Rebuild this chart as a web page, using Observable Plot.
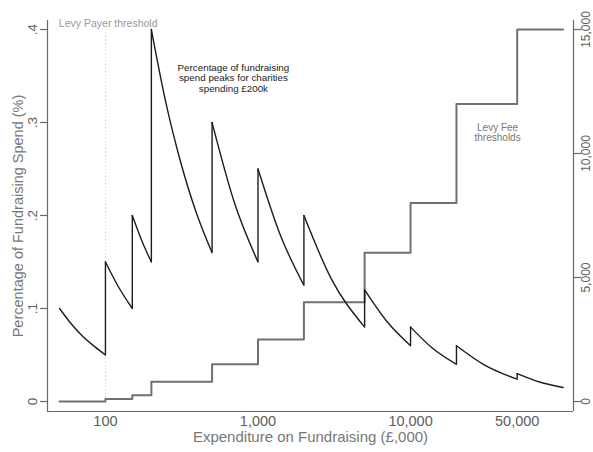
<!DOCTYPE html>
<html>
<head>
<meta charset="utf-8">
<script src="https://cdn.jsdelivr.net/npm/d3@7"></script>
<script src="https://cdn.jsdelivr.net/npm/@observablehq/plot@0.6"></script>
<style>
  html, body { margin: 0; padding: 0; background: #fff; }
  #chart { width: 593px; height: 452px; }
</style>
</head>
<body>
<div id="chart"></div>
<script>
// ---- Data (expenditure in £,000) ----
// Levy fee step function: band start -> fee (£)
const feeBandStart = [50, 100, 150, 200, 500, 1000, 2000, 5000, 10000, 20000, 50000, 100000];
const feeValue     = [0, 100, 250, 800, 1500, 2500, 4000, 6000, 8000, 12000, 15000, 15000];

// Percentage-of-spend curve, read per band segment
const pctSegX = [
  [50, 60, 70, 85, 100],
  [100, 120, 150],
  [150, 175, 200],
  [200, 250, 300, 400, 500],
  [500, 700, 1000],
  [1000, 1400, 2000],
  [2000, 3000, 5000],
  [5000, 7000, 10000],
  [10000, 14000, 20000],
  [20000, 30000, 50000],
  [50000, 70000, 100000]
];
const pctSegY = [
  [0.100, 0.083, 0.071, 0.059, 0.050],
  [0.150, 0.125, 0.100],
  [0.200, 0.171, 0.150],
  [0.400, 0.320, 0.267, 0.200, 0.160],
  [0.300, 0.214, 0.150],
  [0.250, 0.179, 0.125],
  [0.200, 0.133, 0.080],
  [0.120, 0.086, 0.060],
  [0.080, 0.057, 0.040],
  [0.060, 0.040, 0.024],
  [0.030, 0.021, 0.015]
];

const xTicks = [100, 1000, 10000, 50000];
const leftTicks = [0, 0.1, 0.2, 0.3, 0.4];
const leftTickLabels = ["0", ".1", ".2", ".3", ".4"];
const rightTicks = [0, 5000, 10000, 15000];

// ---- Build tables ----
const k = 0.4 / 15000; // fee (£) -> left-axis units
const feeData = feeBandStart.map((x, i) => ({x, y: feeValue[i] * k}));
const pctData = pctSegX.flatMap((xs, s) => xs.map((x, i) => ({seg: s, x, y: pctSegY[s][i]})));
const jumps = pctSegX.slice(1).map((xs, s) => ({
  x: xs[0],
  lo: pctSegY[s][pctSegY[s].length - 1],
  hi: pctSegY[s + 1][0]
}));

const xDom = [41.7, 117000];
const yDom = [-0.01075, 0.4097];
const axisCol = "#6a6a6a";
const labCol = "#5e5e5e";

const chart = Plot.plot({
  width: 593,
  height: 452,
  marginLeft: 47,
  marginRight: 20,
  marginTop: 20,
  marginBottom: 41,
  style: {fontFamily: "'Liberation Sans', Arial, sans-serif", background: "#fff"},
  x: {type: "log", domain: xDom, axis: null},
  y: {domain: yDom, axis: null},
  marks: [
    // frame lines (left, bottom, right)
    Plot.ruleX([xDom[0]], {stroke: axisCol, strokeWidth: 1.2}),
    Plot.ruleX([xDom[1]], {stroke: axisCol, strokeWidth: 1.2}),
    Plot.ruleY([yDom[0]], {stroke: axisCol, strokeWidth: 1.2}),
    // left ticks + labels
    Plot.axisY({anchor: "left", ticks: leftTicks, tickSize: 7, tickFormat: () => "", label: null, stroke: axisCol, strokeWidth: 1.2}),
    Plot.text(leftTicks, {
      y: d => d, frameAnchor: "left", dx: -11, rotate: -90,
      text: (d, i) => leftTickLabels[i], textAnchor: "middle", lineAnchor: "bottom",
      fontSize: 13.5, fill: labCol
    }),
    // right ticks + labels (fee)
    Plot.axisY({anchor: "right", ticks: rightTicks.map(f => f * k), tickSize: 7, tickFormat: () => "", label: null, stroke: axisCol, strokeWidth: 1.2}),
    Plot.text(rightTicks, {
      y: d => d * k, frameAnchor: "right", dx: 8, rotate: -90,
      text: d => d3.format(",")(d), textAnchor: "middle", lineAnchor: "top",
      fontSize: 12, fill: labCol
    }),
    // bottom tick labels
    Plot.text(xTicks, {
      x: d => d, frameAnchor: "bottom", dy: 14,
      text: d => d3.format(",")(d), fontSize: 14.5, fill: labCol
    }),
    // axis titles
    Plot.text(["Expenditure on Fundraising (£,000)"], {
      frameAnchor: "bottom", dy: 30, text: d => d, fontSize: 15, fill: "#777"
    }),
    Plot.text(["Percentage of Fundraising Spend (%)"], {
      frameAnchor: "left", dx: -29, rotate: -90, textAnchor: "middle",
      text: d => d, fontSize: 14.5, fill: "#777"
    }),
    // levy payer threshold
    Plot.ruleX([100], {y1: 0, y2: 0.399, stroke: "#c4c4c4", strokeDasharray: "1,2.5", strokeWidth: 1}),
    Plot.text([{x: 49.5, t: "Levy Payer threshold"}], {
      x: "x", frameAnchor: "top", dy: -1, text: "t", textAnchor: "start",
      fontSize: 10.5, fill: "#9a9a9a"
    }),
    // fee step line
    Plot.line(feeData, {x: "x", y: "y", curve: "step-after", stroke: "#707070", strokeWidth: 2}),
    // percent curve
    Plot.line(pctData, {x: "x", y: "y", z: "seg", curve: "monotone-x", stroke: "#1c1c1c", strokeWidth: 1.4}),
    Plot.ruleX(jumps, {x: "x", y1: "lo", y2: "hi", stroke: "#1c1c1c", strokeWidth: 1.4}),
    // annotations
    Plot.text([{x: 690, y: 0.348, t: "Percentage of fundraising\nspend peaks for charities\nspending £200k"}], {
      x: "x", y: "y", text: "t", fontSize: 9.8, lineHeight: 1.1, fill: "#222"
    }),
    Plot.text([{x: 37200, y: 0.289, t: "Levy Fee\nthresholds"}], {
      x: "x", y: "y", text: "t", fontSize: 10, lineHeight: 1.05, fill: "#777"
    })
  ]
});
document.getElementById("chart").appendChild(chart);
</script>
</body>
</html>
